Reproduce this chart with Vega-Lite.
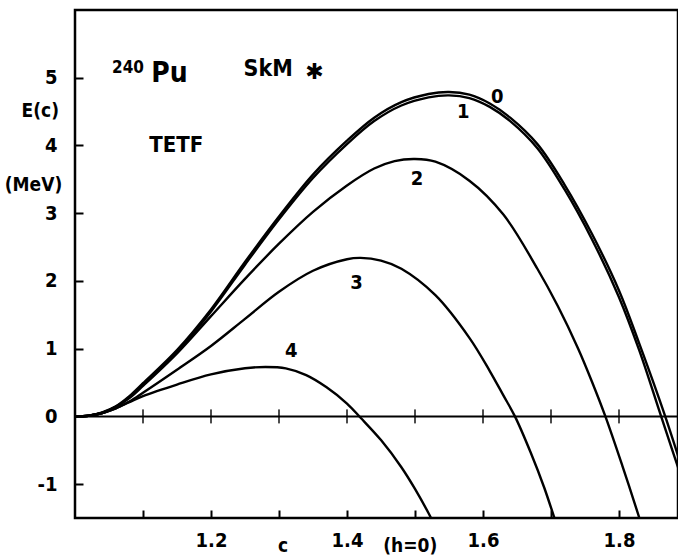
{
  "$schema": "https://vega.github.io/schema/vega-lite/v6.json",
  "width": 603,
  "height": 508,
  "autosize": {"type": "none"},
  "padding": {"left": 75, "top": 10, "right": 0, "bottom": 39},
  "background": "white",
  "config": {
    "view": {"stroke": "black", "strokeWidth": 2.5},
    "font": "DejaVu Sans Condensed, DejaVu Sans, sans-serif",
    "text": {"fontWeight": "bold"},
    "axis": {"grid": false, "domain": false, "tickColor": "black", "tickWidth": 2, "labelColor": "black", "labelFont": "DejaVu Sans Condensed, DejaVu Sans, sans-serif", "labelFontWeight": "bold", "labelFontSize": 20, "title": null}
  },
  "datasets": {
    "curves": [
      {"curve": "0", "c": 1.00, "E": 0}, {"curve": "0", "c": 1.02, "E": 0.01}, {"curve": "0", "c": 1.04, "E": 0.06}, {"curve": "0", "c": 1.06, "E": 0.15}, {"curve": "0", "c": 1.08, "E": 0.30}, {"curve": "0", "c": 1.10, "E": 0.49}, {"curve": "0", "c": 1.15, "E": 0.98}, {"curve": "0", "c": 1.20, "E": 1.58}, {"curve": "0", "c": 1.25, "E": 2.28}, {"curve": "0", "c": 1.30, "E": 2.95}, {"curve": "0", "c": 1.35, "E": 3.57}, {"curve": "0", "c": 1.40, "E": 4.07}, {"curve": "0", "c": 1.44, "E": 4.41}, {"curve": "0", "c": 1.48, "E": 4.64}, {"curve": "0", "c": 1.52, "E": 4.76}, {"curve": "0", "c": 1.55, "E": 4.79}, {"curve": "0", "c": 1.58, "E": 4.75}, {"curve": "0", "c": 1.61, "E": 4.62}, {"curve": "0", "c": 1.64, "E": 4.41}, {"curve": "0", "c": 1.68, "E": 4.02}, {"curve": "0", "c": 1.72, "E": 3.42}, {"curve": "0", "c": 1.76, "E": 2.70}, {"curve": "0", "c": 1.80, "E": 1.86}, {"curve": "0", "c": 1.83, "E": 1.07}, {"curve": "0", "c": 1.868, "E": 0}, {"curve": "0", "c": 1.90, "E": -1.0},
      {"curve": "1", "c": 1.00, "E": 0}, {"curve": "1", "c": 1.02, "E": 0.01}, {"curve": "1", "c": 1.04, "E": 0.05}, {"curve": "1", "c": 1.06, "E": 0.14}, {"curve": "1", "c": 1.08, "E": 0.28}, {"curve": "1", "c": 1.10, "E": 0.47}, {"curve": "1", "c": 1.15, "E": 0.95}, {"curve": "1", "c": 1.20, "E": 1.55}, {"curve": "1", "c": 1.25, "E": 2.24}, {"curve": "1", "c": 1.30, "E": 2.91}, {"curve": "1", "c": 1.35, "E": 3.52}, {"curve": "1", "c": 1.40, "E": 4.02}, {"curve": "1", "c": 1.44, "E": 4.36}, {"curve": "1", "c": 1.48, "E": 4.59}, {"curve": "1", "c": 1.52, "E": 4.71}, {"curve": "1", "c": 1.55, "E": 4.74}, {"curve": "1", "c": 1.58, "E": 4.70}, {"curve": "1", "c": 1.61, "E": 4.57}, {"curve": "1", "c": 1.64, "E": 4.36}, {"curve": "1", "c": 1.68, "E": 3.96}, {"curve": "1", "c": 1.72, "E": 3.35}, {"curve": "1", "c": 1.76, "E": 2.62}, {"curve": "1", "c": 1.80, "E": 1.76}, {"curve": "1", "c": 1.83, "E": 0.97}, {"curve": "1", "c": 1.862, "E": 0}, {"curve": "1", "c": 1.90, "E": -1.15},
      {"curve": "2", "c": 1.00, "E": 0}, {"curve": "2", "c": 1.02, "E": 0.01}, {"curve": "2", "c": 1.04, "E": 0.05}, {"curve": "2", "c": 1.06, "E": 0.14}, {"curve": "2", "c": 1.08, "E": 0.27}, {"curve": "2", "c": 1.10, "E": 0.45}, {"curve": "2", "c": 1.15, "E": 0.93}, {"curve": "2", "c": 1.20, "E": 1.48}, {"curve": "2", "c": 1.25, "E": 2.03}, {"curve": "2", "c": 1.30, "E": 2.55}, {"curve": "2", "c": 1.35, "E": 3.02}, {"curve": "2", "c": 1.40, "E": 3.41}, {"curve": "2", "c": 1.44, "E": 3.66}, {"curve": "2", "c": 1.47, "E": 3.77}, {"curve": "2", "c": 1.50, "E": 3.80}, {"curve": "2", "c": 1.53, "E": 3.76}, {"curve": "2", "c": 1.58, "E": 3.48}, {"curve": "2", "c": 1.63, "E": 2.98}, {"curve": "2", "c": 1.68, "E": 2.18}, {"curve": "2", "c": 1.71, "E": 1.63}, {"curve": "2", "c": 1.74, "E": 1.00}, {"curve": "2", "c": 1.76, "E": 0.52}, {"curve": "2", "c": 1.78, "E": 0}, {"curve": "2", "c": 1.805, "E": -0.73}, {"curve": "2", "c": 1.83, "E": -1.5}, {"curve": "2", "c": 1.84, "E": -1.82},
      {"curve": "3", "c": 1.00, "E": 0}, {"curve": "3", "c": 1.02, "E": 0.01}, {"curve": "3", "c": 1.04, "E": 0.05}, {"curve": "3", "c": 1.06, "E": 0.12}, {"curve": "3", "c": 1.08, "E": 0.22}, {"curve": "3", "c": 1.10, "E": 0.35}, {"curve": "3", "c": 1.15, "E": 0.69}, {"curve": "3", "c": 1.20, "E": 1.04}, {"curve": "3", "c": 1.25, "E": 1.44}, {"curve": "3", "c": 1.30, "E": 1.84}, {"curve": "3", "c": 1.35, "E": 2.15}, {"curve": "3", "c": 1.40, "E": 2.32}, {"curve": "3", "c": 1.42, "E": 2.34}, {"curve": "3", "c": 1.45, "E": 2.30}, {"curve": "3", "c": 1.48, "E": 2.18}, {"curve": "3", "c": 1.53, "E": 1.79}, {"curve": "3", "c": 1.58, "E": 1.16}, {"curve": "3", "c": 1.61, "E": 0.67}, {"curve": "3", "c": 1.63, "E": 0.31}, {"curve": "3", "c": 1.647, "E": 0}, {"curve": "3", "c": 1.67, "E": -0.53}, {"curve": "3", "c": 1.69, "E": -1.05}, {"curve": "3", "c": 1.705, "E": -1.5}, {"curve": "3", "c": 1.715, "E": -1.8},
      {"curve": "4", "c": 1.00, "E": 0}, {"curve": "4", "c": 1.02, "E": 0.01}, {"curve": "4", "c": 1.04, "E": 0.05}, {"curve": "4", "c": 1.06, "E": 0.12}, {"curve": "4", "c": 1.08, "E": 0.21}, {"curve": "4", "c": 1.10, "E": 0.30}, {"curve": "4", "c": 1.15, "E": 0.47}, {"curve": "4", "c": 1.20, "E": 0.62}, {"curve": "4", "c": 1.25, "E": 0.71}, {"curve": "4", "c": 1.28, "E": 0.73}, {"curve": "4", "c": 1.31, "E": 0.71}, {"curve": "4", "c": 1.34, "E": 0.61}, {"curve": "4", "c": 1.37, "E": 0.43}, {"curve": "4", "c": 1.40, "E": 0.19}, {"curve": "4", "c": 1.42, "E": -0.02}, {"curve": "4", "c": 1.45, "E": -0.35}, {"curve": "4", "c": 1.48, "E": -0.75}, {"curve": "4", "c": 1.50, "E": -1.07}, {"curve": "4", "c": 1.52, "E": -1.43}, {"curve": "4", "c": 1.53, "E": -1.63}
    ],
    "zeroTicks": [{"c": 1.1}, {"c": 1.2}, {"c": 1.3}, {"c": 1.4}, {"c": 1.5}, {"c": 1.6}, {"c": 1.7}, {"c": 1.8}],
    "curveLabels": [
      {"label": "0", "c": 1.621, "E": 4.72}, {"label": "1", "c": 1.571, "E": 4.49}, {"label": "2", "c": 1.503, "E": 3.50}, {"label": "3", "c": 1.414, "E": 1.97}, {"label": "4", "c": 1.318, "E": 0.96}
    ]
  },
  "layer": [
    {
      "data": {"name": "curves"},
      "mark": {"type": "line", "clip": true, "strokeWidth": 2.4, "interpolate": "catmull-rom", "color": "black"},
      "encoding": {
        "x": {"field": "c", "type": "quantitative", "scale": {"domain": [1.0, 1.8868], "zero": false, "nice": false},
          "axis": {"orient": "bottom", "values": [1.1, 1.2, 1.3, 1.4, 1.5, 1.6, 1.7, 1.8], "format": ".1f", "tickSize": -8, "labelPadding": 20,
            "labelExpr": "indexof(['1.2','1.4','1.6','1.8'], datum.label) >= 0 ? datum.label : ''"}},
        "y": {"field": "E", "type": "quantitative", "scale": {"domain": [-1.5, 6.0], "zero": false, "nice": false},
          "axis": {"orient": "left", "values": [-1, 0, 1, 2, 3, 4, 5], "format": "d", "tickSize": -8, "labelPadding": 26,
            "labelExpr": "replace(datum.label, '\u2212', '-')"}},
        "detail": {"field": "curve", "type": "nominal"}
      }
    },
    {
      "data": {"values": [{"E": 0}]},
      "mark": {"type": "rule", "color": "black", "strokeWidth": 2},
      "encoding": {"y": {"field": "E", "type": "quantitative"}}
    },
    {
      "data": {"name": "zeroTicks"},
      "mark": {"type": "tick", "orient": "vertical", "color": "black", "thickness": 2, "size": 14},
      "encoding": {"x": {"field": "c", "type": "quantitative"}, "y": {"datum": 0, "type": "quantitative"}}
    },
    {
      "data": {"name": "curveLabels"},
      "mark": {"type": "text", "fontSize": 20, "color": "black", "align": "center", "baseline": "middle"},
      "encoding": {"x": {"field": "c", "type": "quantitative"}, "y": {"field": "E", "type": "quantitative"}, "text": {"field": "label"}}
    },
    {
      "data": {"values": [{"label": "TETF", "c": 1.149, "E": 4.01}]},
      "mark": {"type": "text", "fontSize": 22, "color": "black", "align": "center", "baseline": "middle"},
      "encoding": {"x": {"field": "c", "type": "quantitative"}, "y": {"field": "E", "type": "quantitative"}, "text": {"field": "label"}}
    },
    {
      "data": {"values": [{"label": "Pu", "c": 1.139, "E": 5.05}]},
      "mark": {"type": "text", "fontSize": 28, "color": "black", "align": "center", "baseline": "middle"},
      "encoding": {"x": {"field": "c", "type": "quantitative"}, "y": {"field": "E", "type": "quantitative"}, "text": {"field": "label"}}
    },
    {
      "data": {"values": [{"label": "240", "c": 1.078, "E": 5.15}]},
      "mark": {"type": "text", "fontSize": 17, "color": "black", "align": "center", "baseline": "middle"},
      "encoding": {"x": {"field": "c", "type": "quantitative"}, "y": {"field": "E", "type": "quantitative"}, "text": {"field": "label"}}
    },
    {
      "data": {"values": [{"label": "SkM", "c": 1.284, "E": 5.13}]},
      "mark": {"type": "text", "fontSize": 23, "color": "black", "align": "center", "baseline": "middle"},
      "encoding": {"x": {"field": "c", "type": "quantitative"}, "y": {"field": "E", "type": "quantitative"}, "text": {"field": "label"}}
    },
    {
      "data": {"values": [{"label": "✱", "c": 1.352, "E": 5.09}]},
      "mark": {"type": "text", "fontSize": 22, "color": "black", "align": "center", "baseline": "middle", "font": "DejaVu Sans"},
      "encoding": {"x": {"field": "c", "type": "quantitative"}, "y": {"field": "E", "type": "quantitative"}, "text": {"field": "label"}}
    },
    {
      "data": {"values": [{"label": "E(c)", "c": 0.949, "E": 4.51}, {"label": "(MeV)", "c": 0.939, "E": 3.42}, {"label": "c", "c": 1.306, "E": -1.92}, {"label": "(h=0)", "c": 1.493, "E": -1.92}]},
      "mark": {"type": "text", "fontSize": 19, "color": "black", "align": "center", "baseline": "middle"},
      "encoding": {"x": {"field": "c", "type": "quantitative"}, "y": {"field": "E", "type": "quantitative"}, "text": {"field": "label"}}
    }
  ]
}
